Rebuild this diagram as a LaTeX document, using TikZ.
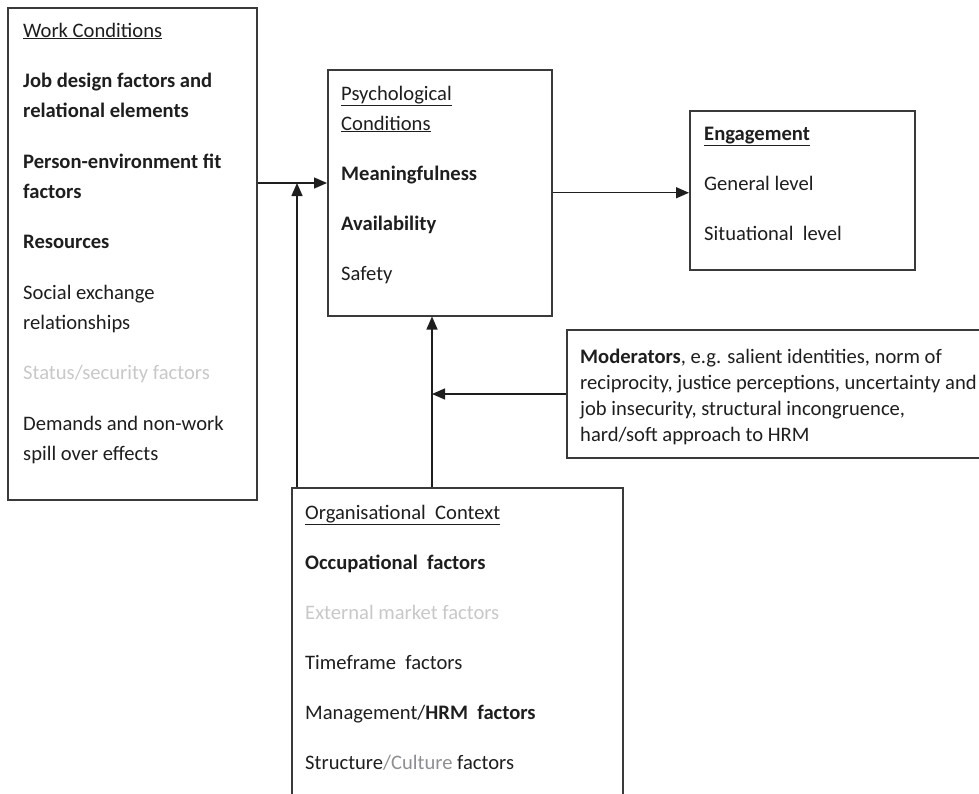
\documentclass[tikz,border=0pt]{standalone}
\usepackage{fontspec}
\setmainfont{Carlito}
\usetikzlibrary{arrows.meta}
\definecolor{ink}{HTML}{1E1E1E}
\definecolor{faint}{HTML}{C8C8C8}
\definecolor{mid}{HTML}{8E8E96}
\definecolor{edge}{HTML}{3A3A3A}
\begin{document}
\begin{tikzpicture}[x=1pt,y=-1pt,
  box/.style={draw=edge, line width=1.5pt, anchor=north west, inner sep=0pt},
  txt/.style={anchor=base west, align=left, inner sep=0pt, text=ink, font=\fontsize{20.6}{30}\selectfont},
  arr/.style={draw=ink, line width=1.4pt, -{Triangle[length=13pt,width=11pt]}}]
\clip (0,0) rectangle (979,793);

\node[box, minimum width=249pt, minimum height=492pt] (work) at (7,7) {};
\node[box, minimum width=224pt, minimum height=246pt] (psych) at (327,69) {};
\node[box, minimum width=225pt, minimum height=159pt] (eng) at (689,110) {};
\node[box, minimum width=450pt, minimum height=128pt] (mod) at (566,329) {};
\node[box, minimum width=331pt, minimum height=350pt] (org) at (291,487) {};

% text sits on the baseline of its last line
\node[txt] (worktxt) at (23,460) {\underline{Work Conditions}\\[20.5pt]
\textbf{Job design factors and}\\ \textbf{relational elements}\\[20.5pt]
\textbf{Person-environment fit}\\ \textbf{factors}\\[20.5pt]
\textbf{Resources}\\[20.5pt]
Social exchange\\ relationships\\[20.5pt]
\textcolor{faint}{Status/security factors}\\[20.5pt]
Demands and non-work\\ spill over effects};

\node[txt] (psychtxt) at (341,280) {\underline{Psychological}\\ \underline{Conditions}\\[20pt]
\textbf{Meaningfulness}\\[20pt]
\textbf{Availability}\\[20pt]
Safety};

\node[txt] (engtxt) at (704,240) {\textbf{\underline{Engagement}}\\[20pt]
General level\\[20pt]
Situational\ \ level};

\node[txt, font=\fontsize{20.6}{26}\selectfont] (modtxt) at (580,441) {\textbf{Moderators}, e.g. salient identities, norm of\\
reciprocity, justice perceptions, uncertainty and\\
job insecurity, structural incongruence,\\
hard/soft approach to HRM};

\node[txt] (orgtxt) at (305,769) {\underline{Organisational\ \ Context}\\[20pt]
\textbf{Occupational\ \ factors}\\[20pt]
\textcolor{faint}{External market factors}\\[20pt]
Timeframe\ \ factors\\[20pt]
Management/\textbf{HRM\ \ factors}\\[20pt]
Structure\textcolor{mid}{/Culture} factors};

\coordinate (j1) at (297,183);
\coordinate (j2) at (432,394);
\draw[arr] (work.east |- j1) -- (psych.west |- j1);
\draw[arr] (org.north -| j1) -- (j1);
\draw[arr] (psych.east) -- (eng.west |- psych.east);
\draw[arr] (org.north -| j2) -- (psych.south -| j2);
\draw[arr] (mod.west |- j2) -- (j2);
\end{tikzpicture}
\end{document}
